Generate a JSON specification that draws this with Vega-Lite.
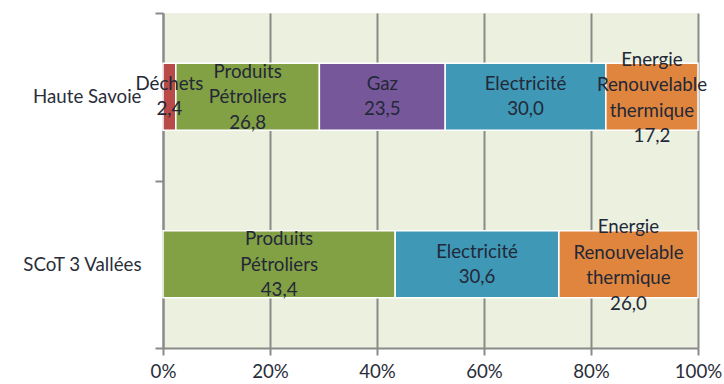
{
  "$schema": "https://vega.github.io/schema/vega-lite/v6.json",
  "width": 535,
  "height": 335,
  "autosize": {"type": "none"},
  "padding": {"left": 163, "top": 13, "right": 26, "bottom": 36},
  "background": "white",
  "config": {"view": {"fill": "#ebf1de", "stroke": null}, "font": "Lato"},
  "data": {
    "values": [
      {"region": "Haute Savoie", "source": "Déchets", "label": "Déchets", "ord": 1, "value": 2.4},
      {"region": "Haute Savoie", "source": "Produits Pétroliers", "label": "Produits\nPétroliers", "ord": 2, "value": 26.8},
      {"region": "Haute Savoie", "source": "Gaz", "label": "Gaz", "ord": 3, "value": 23.5},
      {"region": "Haute Savoie", "source": "Electricité", "label": "Electricité", "ord": 4, "value": 30.0},
      {"region": "Haute Savoie", "source": "Energie Renouvelable thermique", "label": "Energie\nRenouvelable\nthermique", "ord": 5, "value": 17.2},
      {"region": "SCoT 3 Vallées", "source": "Produits Pétroliers", "label": "Produits\nPétroliers", "ord": 2, "value": 43.4},
      {"region": "SCoT 3 Vallées", "source": "Electricité", "label": "Electricité", "ord": 4, "value": 30.6},
      {"region": "SCoT 3 Vallées", "source": "Energie Renouvelable thermique", "label": "Energie\nRenouvelable\nthermique", "ord": 5, "value": 26.0}
    ]
  },
  "transform": [
    {"stack": "value", "groupby": ["region"], "sort": [{"field": "ord", "order": "ascending"}], "offset": "normalize", "as": ["x0", "x1"]},
    {"calculate": "(datum.x0 + datum.x1) / 2", "as": "xm"},
    {"calculate": "datum.label + '\\n' + replace(format(datum.value, '.1f'), '.', ',')", "as": "txt"}
  ],
  "encoding": {
    "y": {
      "field": "region",
      "type": "nominal",
      "sort": ["Haute Savoie", "SCoT 3 Vallées"],
      "scale": {"paddingInner": 0, "paddingOuter": 0},
      "axis": {
        "title": null,
        "tickBand": "extent",
        "tickSize": 8,
        "tickColor": "#8a8a8a",
        "tickWidth": 2,
        "domainColor": "#8a8a8a",
        "domainWidth": 2,
        "labelFontSize": 18.7,
        "labelColor": "#2a2e3a",
        "labelPadding": 14,
        "grid": false
      }
    }
  },
  "layer": [
    {
      "mark": {"type": "bar", "height": {"band": 0.4}, "stroke": "white", "strokeWidth": 1.5},
      "encoding": {
        "x": {
          "field": "x0",
          "type": "quantitative",
          "scale": {"domain": [0, 1], "nice": false},
          "axis": {
            "title": null,
            "format": "%",
            "values": [0, 0.2, 0.4, 0.6, 0.8, 1],
            "grid": true,
            "gridColor": "#8a8a8a",
            "gridWidth": 2,
            "tickSize": 7,
            "tickColor": "#8a8a8a",
            "tickWidth": 2,
            "domainColor": "#8a8a8a",
            "domainWidth": 2,
            "labelFontSize": 18.7,
            "labelColor": "#2a2e3a",
            "labelPadding": 7,
            "labelFlush": false,
            "labelOverlap": false
          }
        },
        "x2": {"field": "x1"},
        "color": {
          "field": "source",
          "type": "nominal",
          "legend": null,
          "scale": {
            "domain": ["Déchets", "Produits Pétroliers", "Gaz", "Electricité", "Energie Renouvelable thermique"],
            "range": ["#b84a47", "#82a044", "#76589a", "#3e98b6", "#e0853d"]
          }
        }
      }
    },
    {
      "transform": [{"filter": "indexof(['Déchets', 'Gaz', 'Electricité'], datum.source) >= 0"}],
      "mark": {"type": "text", "lineBreak": "\n", "fontSize": 18.7, "lineHeight": 25, "color": "#232838", "baseline": "middle", "align": "center", "dy": -12.5},
      "encoding": {
        "x": {"field": "xm", "type": "quantitative"},
        "text": {"field": "txt"}
      }
    },
    {
      "transform": [{"filter": "datum.source == 'Produits Pétroliers'"}],
      "mark": {"type": "text", "lineBreak": "\n", "fontSize": 18.7, "lineHeight": 25.5, "color": "#232838", "baseline": "middle", "align": "center", "dy": -25},
      "encoding": {
        "x": {"field": "xm", "type": "quantitative"},
        "text": {"field": "txt"}
      }
    },
    {
      "transform": [{"filter": "datum.source == 'Energie Renouvelable thermique'"}],
      "mark": {"type": "text", "lineBreak": "\n", "fontSize": 18.7, "lineHeight": 25.5, "color": "#232838", "baseline": "middle", "align": "center", "dy": -37},
      "encoding": {
        "x": {"field": "xm", "type": "quantitative"},
        "text": {"field": "txt"}
      }
    }
  ]
}
